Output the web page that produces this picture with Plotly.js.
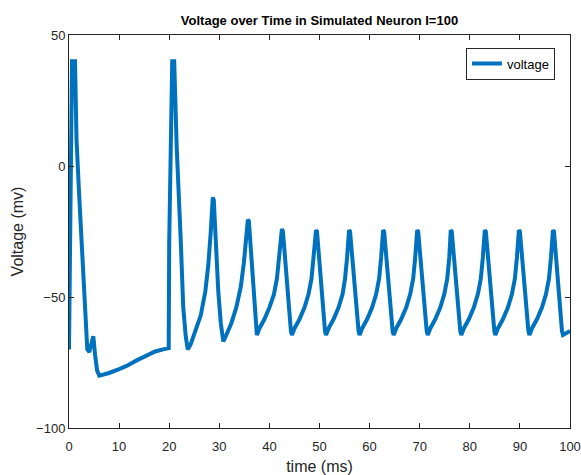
<!DOCTYPE html>
<html>
<head>
<meta charset="utf-8">
<script src="https://cdn.plot.ly/plotly-3.0.1.min.js"></script>
<style>html,body{margin:0;padding:0;background:#fff;}#chart{width:581px;height:475px;}</style>
</head>
<body>
<div id="chart"></div>
<script>
// time (ms) and voltage (mV)
const timeMs = [
  0, 0.15, 0.35, 0.6, 1.2, 1.5, 2.0, 2.5, 2.9, 3.2, 3.45, 3.65, 4.05, 4.5, 4.85, 5.2, 5.6, 6.05,
  8, 10, 11.5, 13.5, 15.5, 17.2, 18.8, 19.9, 20.0, 20.35, 20.6, 21.0, 21.5, 22.3, 22.8, 23.3, 23.7,
  24.3, 25.3, 26.3, 27.2, 27.8, 28.3, 28.7, 28.9, 29.3, 29.8, 30.3, 30.8,
  31.4, 32.4, 33.4, 34.3, 34.9, 35.4, 35.7, 35.9, 36.3, 36.7, 37.1, 37.5,
  38.0, 39.0, 40.0, 40.9, 41.5, 41.9, 42.2, 42.5, 42.7, 43.1, 43.5, 43.9, 44.3, 44.5,
  45.0, 46.0, 47.0, 47.8, 48.4, 48.8, 49.1, 49.3, 49.5, 49.9, 50.3, 50.7, 51.1, 51.3,
  51.8, 52.8, 53.8, 54.6, 55.1, 55.5, 55.7, 55.9, 56.1, 56.5, 56.9, 57.3, 57.8, 58.0,
  58.5, 59.5, 60.5, 61.3, 61.9, 62.3, 62.5, 62.7, 62.9, 63.3, 63.7, 64.1, 64.6, 64.8,
  65.3, 66.3, 67.3, 68.1, 68.7, 69.1, 69.3, 69.5, 69.7, 70.1, 70.5, 70.9, 71.4, 71.6,
  72.1, 73.1, 74.1, 74.9, 75.5, 75.9, 76.1, 76.2, 76.4, 76.8, 77.2, 77.6, 78.1, 78.3,
  78.8, 79.8, 80.8, 81.6, 82.2, 82.6, 82.8, 83.0, 83.2, 83.6, 84.0, 84.4, 84.9, 85.1,
  85.6, 86.6, 87.6, 88.4, 89.0, 89.4, 89.6, 89.8, 90.0, 90.4, 90.8, 91.2, 91.7, 91.9,
  92.4, 93.4, 94.4, 95.2, 95.8, 96.2, 96.4, 96.6, 96.8, 97.2, 97.6, 98.0, 98.4, 98.6,
  99.0, 99.5, 100
];
const voltage = [
  -70, -45, 10, 40, 40, 10, -10, -28, -45, -54, -64, -70, -71, -67, -65, -72, -78, -80,
  -79, -77.5, -76.3, -74.2, -72.2, -70.8, -70, -69.5, -29.4, 10, 40, 40, 7, -28, -54, -65, -70,
  -68, -63, -57, -48, -38, -25, -12, -13, -30, -48, -60, -67,
  -64.5, -60, -54, -46, -37, -27, -20.5, -21, -33, -46, -57, -64.5,
  -62, -58.5, -54, -49, -43, -35, -28, -24, -25, -34, -46, -56, -63, -64.5,
  -62, -58.5, -54, -49, -43, -35, -28, -24.5, -25, -34, -46, -56, -63, -64.5,
  -62, -58.5, -54, -49, -43, -35, -28, -24.5, -25, -34, -46, -56, -63, -64.5,
  -62, -58.5, -54, -49, -43, -35, -28, -24.5, -25, -34, -46, -56, -63, -64.5,
  -62, -58.5, -54, -49, -43, -35, -28, -24.5, -25, -34, -46, -56, -63, -64.5,
  -62, -58.5, -54, -49, -43, -35, -28, -24.5, -25, -34, -46, -56, -63, -64.5,
  -62, -58.5, -54, -49, -43, -35, -28, -24.5, -25, -34, -46, -56, -63, -64.5,
  -62, -58.5, -54, -49, -43, -35, -28, -24.5, -25, -34, -46, -56, -63, -64.5,
  -62, -58.5, -54, -49, -43, -35, -28, -24.5, -25, -34, -46, -56, -63, -64.5,
  -64, -63.5, -63
];
const xTicks = [0, 10, 20, 30, 40, 50, 60, 70, 80, 90, 100];
const yTicks = [-100, -50, 0, 50];
const seriesName = 'voltage';

const font = 'Liberation Sans, Arial, Helvetica, sans-serif';
const trace = {
  x: timeMs, y: voltage, type: 'scatter', mode: 'lines', name: seriesName,
  line: {color: '#0072BD', width: 4}
};
const axisCommon = {
  showgrid: false, zeroline: false, showline: true, mirror: 'ticks',
  linecolor: '#262626', linewidth: 1, ticks: 'inside', ticklen: 5, tickcolor: '#262626',
  tickfont: {family: font, size: 13, color: '#262626'}
};
const layout = {
  width: 581, height: 475,
  margin: {l: 69, r: 11, t: 35, b: 47},
  paper_bgcolor: '#ffffff', plot_bgcolor: '#ffffff',
  title: {text: '<b>Voltage over Time in Simulated Neuron I=100</b>', x: 0.5, xref: 'paper',
    y: 1 - 20/475, yanchor: 'middle', yref: 'container',
    font: {family: font, size: 13, color: '#000000'}},
  xaxis: Object.assign({}, axisCommon, {range: [0, 100], tickvals: xTicks, ticklabelstandoff: 6,
    title: {text: 'time (ms)', standoff: 8, font: {family: font, size: 16, color: '#262626'}}}),
  yaxis: Object.assign({}, axisCommon, {range: [-100, 50], tickvals: yTicks,
    title: {text: 'Voltage (mv)', standoff: 8, font: {family: font, size: 16, color: '#262626'}}}),
  showlegend: true,
  legend: {x: 0.97, y: 0.968, xanchor: 'right', yanchor: 'top', bgcolor: '#ffffff',
    bordercolor: '#262626', borderwidth: 1, font: {family: font, size: 13, color: '#000000'}}
};
Plotly.newPlot('chart', [trace], layout, {displayModeBar: false, staticPlot: true});
</script>
</body>
</html>
